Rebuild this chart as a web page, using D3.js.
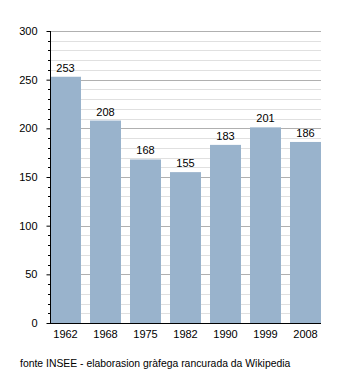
<!DOCTYPE html>
<html><head><meta charset="utf-8">
<script src="https://cdn.jsdelivr.net/npm/d3@7"></script>
<style>body{margin:0;background:#fff}svg{display:block;font-family:"Liberation Sans",Arial,sans-serif}</style>
</head><body>
<script>
const years = ["1962","1968","1975","1982","1990","1999","2008"];
const population = [253,208,168,155,183,201,186];
const yTicks = [0,50,100,150,200,250,300];
const source = "fonte INSEE - elaborasion gràfega rancurada da Wikipedia";

(function(){
const W=350,H=373, pL=50, pR=321, pT=31, pB=323;
const svg=d3.select("body").append("svg").attr("width",W).attr("height",H);
const x=d3.scaleBand().domain(years).range([pL,pR]).paddingInner(0.225).paddingOuter(0);
const y=d3.scaleLinear().domain([0,300]).range([pB,pT]);

const minor=d3.range(10,301,10).filter(v=>v%50!==0);
svg.append("g").selectAll("line").data(minor).join("line")
 .attr("x1",pL).attr("x2",pR).attr("y1",d=>Math.round(y(d))+0.5).attr("y2",d=>Math.round(y(d))+0.5)
 .attr("stroke","#e0e0e0");
svg.append("g").selectAll("line").data(yTicks.filter(v=>v>0)).join("line")
 .attr("x1",pL).attr("x2",pR).attr("y1",d=>Math.round(y(d))+0.5).attr("y2",d=>Math.round(y(d))+0.5)
 .attr("stroke","#b0b0b0");

svg.append("g").selectAll("rect").data(population).join("rect")
 .attr("x",(d,i)=>x(years[i])).attr("width",x.bandwidth())
 .attr("y",d=>y(d)).attr("height",d=>pB-y(d)).attr("fill","#99b3cc");

svg.append("g").selectAll("text").data(population).join("text")
 .attr("x",(d,i)=>x(years[i])+x.bandwidth()/2).attr("y",d=>y(d)-5)
 .attr("text-anchor","middle").attr("font-size",11).attr("fill","#000").text(d=>d);

const ya=d3.axisLeft(y).tickValues(yTicks).tickSize(4).tickPadding(9);
const gy=svg.append("g").attr("transform",`translate(${pL+0.5},0)`).call(ya);
gy.select(".domain").remove();
gy.selectAll("text").attr("font-size",11).attr("font-family","Liberation Sans, Arial, sans-serif").attr("fill","#000");
gy.selectAll("line").attr("stroke","#000");
svg.append("g").selectAll("line").data(minor).join("line")
 .attr("x1",pL-2).attr("x2",pL).attr("y1",d=>Math.round(y(d))+0.5).attr("y2",d=>Math.round(y(d))+0.5)
 .attr("stroke","#000");
svg.append("line").attr("x1",pL+0.5).attr("x2",pL+0.5).attr("y1",pT).attr("y2",pB+1).attr("stroke","#000");
const xa=d3.axisBottom(x).tickSize(0).tickPadding(7);
const gx=svg.append("g").attr("transform",`translate(0,${pB})`).call(xa);
gx.select(".domain").remove();
gx.selectAll("text").attr("font-size",11).attr("font-family","Liberation Sans, Arial, sans-serif").attr("fill","#000");
svg.append("line").attr("x1",pL).attr("x2",pR).attr("y1",pB+0.5).attr("y2",pB+0.5).attr("stroke","#000");

svg.append("text").attr("x",20).attr("y",367).attr("font-size",10.4).attr("fill","#000").text(source);
})();
</script>
</body></html>
